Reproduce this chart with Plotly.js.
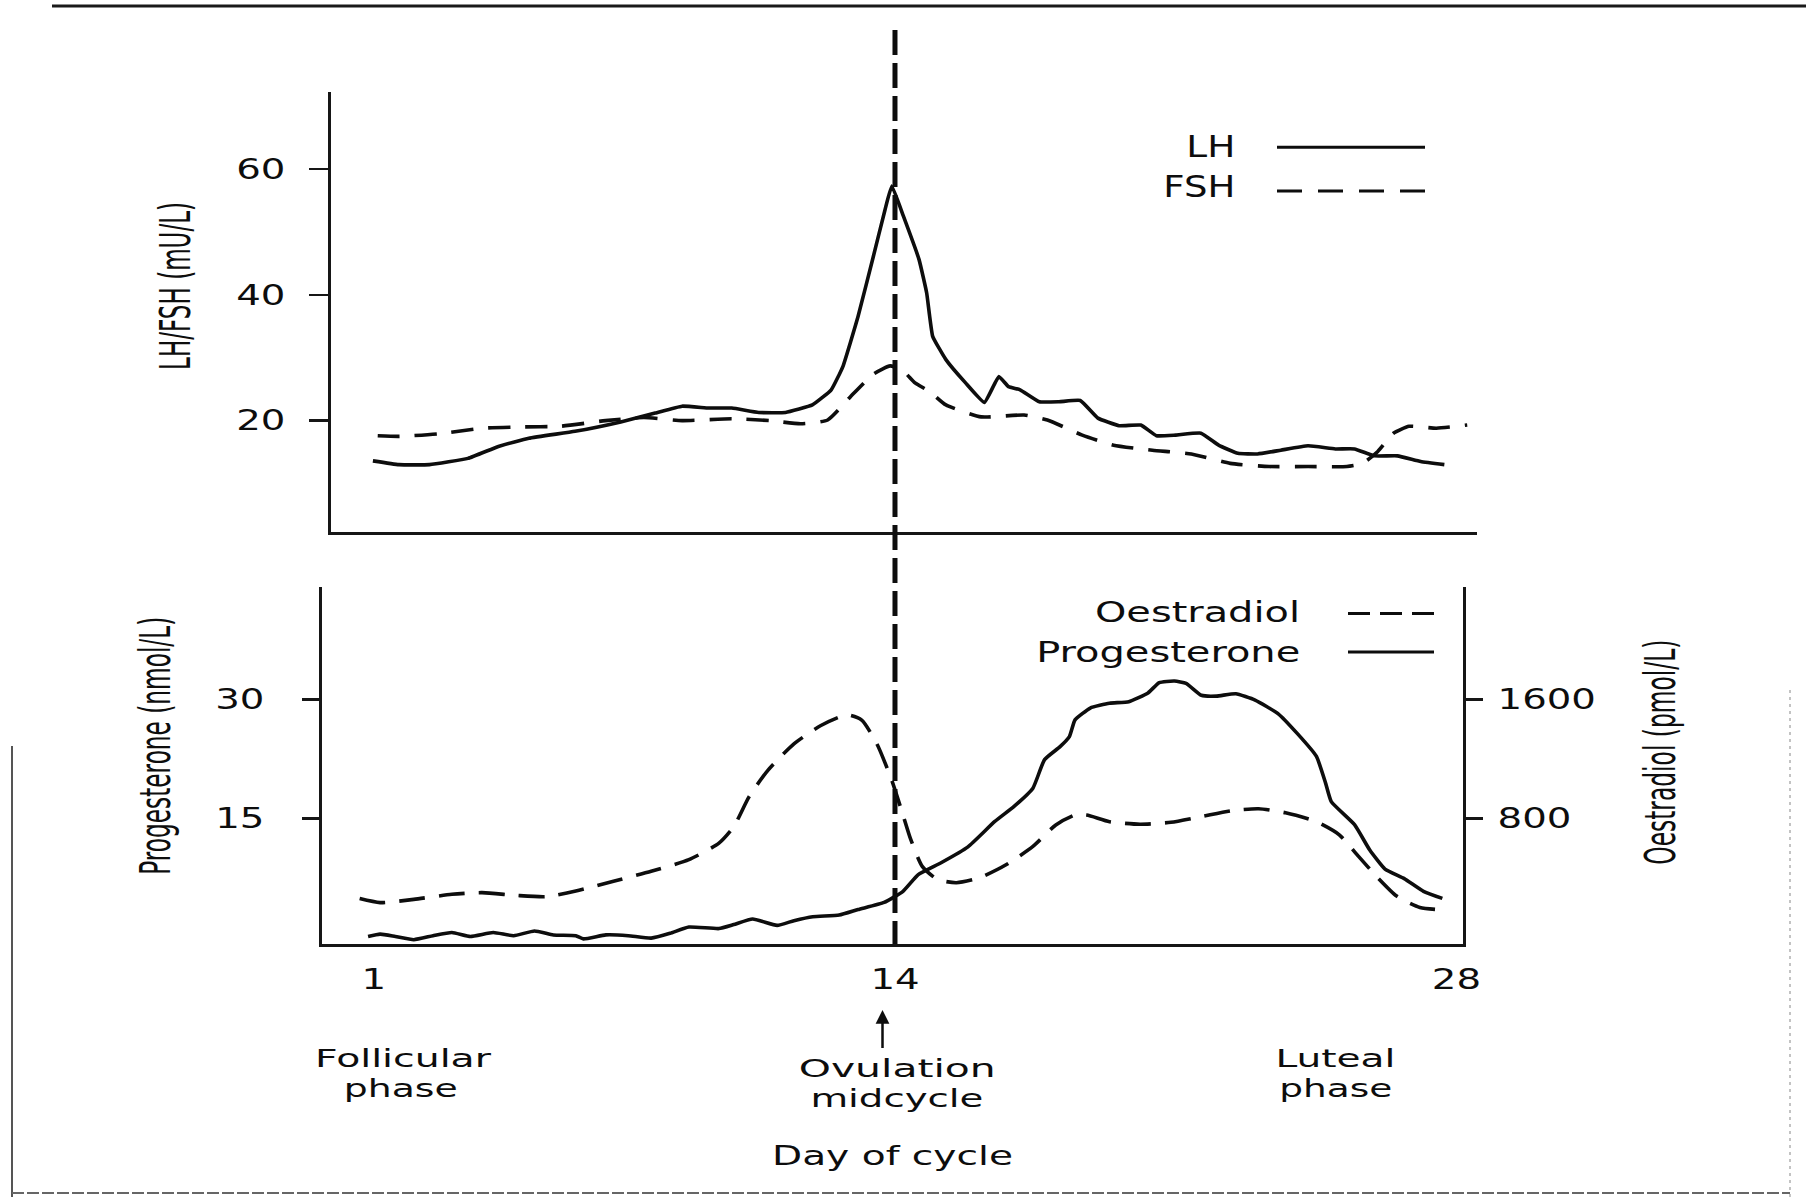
<!DOCTYPE html>
<html>
<head>
<meta charset="utf-8">
<script src="https://cdn.plot.ly/plotly-3.0.1.min.js"></script>
<style>
  html, body { margin: 0; padding: 0; background: #ffffff; }
  #chart { width: 1806px; height: 1197px; }
</style>
</head>
<body>
<div id="chart"></div>
<script>
// ---------------- data ----------------
const LH_DAY = [0.98,1.63,2.39,3.35,4.11,4.87,6.02,7.16,8.02,8.69,9.36,9.93,10.60,11.27,11.94,12.41,12.70,13.08,13.46,13.75,13.92,14.21,14.60,14.79,14.94,15.27,15.76,16.23,16.59,16.83,17.12,17.60,18.09,18.62,19.06,19.59,20.13,20.52,21.00,21.63,22.07,22.55,23.04,23.62,24.30,24.98,25.46,25.95,26.53,27.11,27.70];
const LH = [13.6,13.0,13.0,14.0,15.9,17.2,18.3,19.8,21.2,22.3,22.0,22.0,21.3,21.3,22.5,24.9,28.6,36.6,46.1,53.5,57.3,52.5,45.6,40.3,33.4,29.7,26.0,22.9,27.0,25.4,24.9,23.0,23.0,23.2,20.4,19.2,19.3,17.6,17.7,18.0,16.1,14.8,14.7,15.3,16.0,15.5,15.5,14.4,14.4,13.5,13.0];

const FSH_DAY = [1.10,1.63,2.60,3.73,4.68,5.64,6.78,7.74,8.69,9.93,10.89,11.65,12.32,12.89,13.46,13.88,14.22,14.50,14.87,15.27,16.15,17.22,17.80,18.67,19.45,20.42,21.39,22.36,23.33,24.30,25.27,25.66,26.04,26.43,26.82,27.50,28.27];
const FSH = [17.6,17.5,17.9,18.8,19.0,19.1,20.0,20.5,20.0,20.3,20.0,19.5,20.1,23.8,27.4,28.7,27.8,26.0,24.6,22.5,20.6,20.9,20.1,17.7,16.1,15.3,14.7,13.2,12.7,12.7,12.7,13.2,15.1,18.0,19.1,18.8,19.3];

const PROG_DAY = [0.86,1.16,1.54,2.00,2.48,2.95,3.41,3.98,4.49,5.01,5.48,6.04,6.23,6.79,7.35,7.92,8.39,8.86,9.61,9.98,10.45,11.06,11.48,11.95,12.61,13.08,13.73,14.20,14.58,15.15,15.82,16.49,16.97,17.44,17.73,18.11,18.35,18.49,18.87,19.35,19.83,20.31,20.59,20.97,21.26,21.64,22.02,22.50,22.98,23.55,24.03,24.51,24.74,24.88,25.46,25.84,26.22,26.70,27.18,27.65];
const PROGESTERONE = [0.1,0.4,0.1,-0.3,0.2,0.6,0.1,0.6,0.2,0.8,0.3,0.2,-0.2,0.3,0.2,-0.1,0.5,1.3,1.1,1.6,2.3,1.5,2.1,2.6,2.8,3.5,4.4,5.8,7.9,9.4,11.4,14.6,16.5,18.8,22.4,24.0,25.3,27.4,28.9,29.5,29.7,30.8,32.1,32.3,32.0,30.5,30.4,30.7,29.9,28.2,25.7,22.8,19.4,17.1,14.2,11.0,8.6,7.4,5.8,4.9];

const OEST_DAY = [0.65,1.16,2.00,2.95,3.70,4.54,5.29,6.04,6.98,7.92,8.86,9.61,9.98,10.36,10.83,11.48,12.14,12.80,13.17,13.55,13.92,14.20,14.39,14.68,15.06,15.53,16.11,16.78,17.44,18.01,18.49,18.78,19.35,20.11,20.88,21.64,22.40,23.07,23.74,24.51,25.08,25.56,26.04,26.51,27.09,27.66];
const OESTRADIOL = [260,233,255,289,300,282,273,311,377,444,522,633,744,944,1122,1300,1422,1495,1460,1300,1055,822,660,477,389,367,400,489,611,755,822,822,777,760,773,811,851,864,837,777,689,544,400,277,200,184];

const OVULATION_DAY = 14;
const DAY_TICKS = [1, 14, 28];
const LHFSH_TICKS = [20, 40, 60];
const PROG_TICKS = [15, 30];
const OEST_TICKS = [800, 1600];

const SERIES_NAMES = ['LH', 'FSH', 'Progesterone', 'Oestradiol'];
const Y_TITLES = ['LH/FSH (mU/L)', 'Progesterone (nmol/L)', 'Oestradiol (pmol/L)'];
const X_TITLE = 'Day of cycle';
const PHASE_LABELS = [['Follicular', 'phase'], ['Ovulation', 'midcycle'], ['Luteal', 'phase']];

// ---------------- page geometry helpers ----------------
const W = 1806, H = 1197;
const fx = p => p / W;
const fy = p => 1 - p / H;
const FONT = 'DejaVu Sans';
const INK = '#0d0d0d';
const TICK_STRETCH = 1.38;

const traces = [
  { x: LH_DAY, y: LH, name: SERIES_NAMES[0], xaxis: 'x', yaxis: 'y', mode: 'lines',
    line: { color: INK, width: 3.6, shape: 'spline', smoothing: 0.35 } },
  { x: FSH_DAY, y: FSH, name: SERIES_NAMES[1], xaxis: 'x', yaxis: 'y', mode: 'lines',
    line: { color: INK, width: 3.6, dash: '22px,15px', shape: 'spline', smoothing: 0.5 } },
  { x: PROG_DAY, y: PROGESTERONE, name: SERIES_NAMES[2], xaxis: 'x2', yaxis: 'y2', mode: 'lines',
    line: { color: INK, width: 3.6, shape: 'spline', smoothing: 0.45 } },
  { x: OEST_DAY, y: OESTRADIOL, name: SERIES_NAMES[3], xaxis: 'x2', yaxis: 'y3', mode: 'lines',
    line: { color: INK, width: 3.6, dash: '26px,14px', shape: 'spline', smoothing: 0.6 } }
];

const tickFont = { family: FONT, size: 28, color: INK };
const axisCommon = { showgrid: false, zeroline: false, showline: true, linewidth: 3, linecolor: '#161616',
  tickcolor: '#161616', tickwidth: 2.5, tickfont: tickFont, fixedrange: true };

// labels: text, centre (or right edge) in page pixels, size, target rendered length
const labels = [
  { text: SERIES_NAMES[0], x: 1237, y: 146, size: 30, xanchor: 'right', align: 'right', len: 49 },
  { text: SERIES_NAMES[1], x: 1237, y: 186, size: 30, xanchor: 'right', align: 'right', len: 72 },
  { text: SERIES_NAMES[3], x: 1302, y: 612.5, size: 28, xanchor: 'right', align: 'right', len: 205 },
  { text: SERIES_NAMES[2], x: 1302, y: 652, size: 28, xanchor: 'right', align: 'right', len: 264 },
  { text: Y_TITLES[0], x: 175, y: 286, size: 42, angle: -90, len: 168 },
  { text: Y_TITLES[1], x: 155, y: 746, size: 42, angle: -90, len: 258 },
  { text: Y_TITLES[2], x: 1660, y: 752.5, size: 42, angle: -90, len: 225 },
  { text: PHASE_LABELS[0][0], x: 403, y: 1058.5, size: 25, len: 176 },
  { text: PHASE_LABELS[0][1], x: 400, y: 1088.5, size: 25, len: 114 },
  { text: PHASE_LABELS[1][0], x: 897, y: 1068.5, size: 25, len: 197 },
  { text: PHASE_LABELS[1][1], x: 897, y: 1098.5, size: 25, len: 173 },
  { text: PHASE_LABELS[2][0], x: 1335, y: 1058.5, size: 25, len: 120 },
  { text: PHASE_LABELS[2][1], x: 1335, y: 1088.5, size: 25, len: 113 }
];

const annotations = labels.map(l => ({
  text: l.text, xref: 'paper', yref: 'paper', x: fx(l.x), y: fy(l.y),
  xanchor: l.xanchor || 'center', yanchor: 'middle', align: l.align || 'center',
  textangle: l.angle || 0, showarrow: false,
  font: { family: FONT, size: l.size, color: INK }
}));
const ANNOTATION_FIT = labels.map(l => ({ length: l.len }));

// ovulation arrow
annotations.push({ text: ' ', xref: 'paper', yref: 'paper', x: fx(882.5), y: fy(1010),
  showarrow: true, ax: 0, ay: 42, arrowhead: 2, arrowsize: 1.1, arrowwidth: 2.5, arrowcolor: INK,
  font: { family: FONT, size: 4, color: INK } });
ANNOTATION_FIT.push(null);

const legendLine = (x0, x1, y, dash) => ({ type: 'line', xref: 'paper', yref: 'paper',
  x0: fx(x0), x1: fx(x1), y0: fy(y), y1: fy(y), line: { color: INK, width: 3, dash: dash || 'solid' } });

const shapes = [
  // ovulation marker through both panels
  { type: 'line', xref: 'x2', yref: 'paper', x0: OVULATION_DAY, x1: OVULATION_DAY, y0: fy(30), y1: fy(944),
    line: { color: INK, width: 5, dash: '25px,8px' } },
  // legend samples
  legendLine(1277, 1425, 147.3),
  legendLine(1277, 1425, 191, '25px,16px'),
  legendLine(1348, 1434, 613.5, '22px,10px'),
  legendLine(1348, 1434, 652),
  // page rules of the scanned page
  { type: 'line', xref: 'paper', yref: 'paper', x0: fx(52), x1: 1, y0: fy(6), y1: fy(6), line: { color: '#1a1a1a', width: 3 } },
  { type: 'line', xref: 'paper', yref: 'paper', x0: fx(12), x1: fx(12), y0: fy(746), y1: 0, line: { color: '#555555', width: 2 } },
  { type: 'line', xref: 'paper', yref: 'paper', x0: fx(12), x1: fx(1790), y0: fy(1193), y1: fy(1193), line: { color: '#666666', width: 2, dash: '12px,3px' } },
  { type: 'line', xref: 'paper', yref: 'paper', x0: fx(1790), x1: fx(1790), y0: fy(690), y1: 0, line: { color: '#b0b0b0', width: 1.5, dash: '3px,4px' } }
];

const layout = {
  width: W, height: H, margin: { l: 0, r: 0, t: 0, b: 0 },
  paper_bgcolor: '#ffffff', plot_bgcolor: 'rgba(0,0,0,0)', showlegend: false,
  font: { family: FONT, color: INK },
  xaxis: Object.assign({}, axisCommon, { domain: [fx(331), fx(1477)], range: [-0.065, 28.514], anchor: 'y',
    ticks: '', showticklabels: false }),
  yaxis: Object.assign({}, axisCommon, { domain: [fy(531.7), fy(91.7)], range: [2.34, 72.3], anchor: 'x',
    ticks: 'outside', ticklen: 19, tickvals: LHFSH_TICKS, ticktext: LHFSH_TICKS.map(String), ticklabelstandoff: 18 }),
  xaxis2: Object.assign({}, axisCommon, { domain: [fx(322), fx(1463)], range: [-0.289, 28.165], anchor: 'y2',
    ticks: '', tickvals: DAY_TICKS, ticktext: DAY_TICKS.map(String), ticklabelstandoff: 8,
    title: { text: X_TITLE, font: { family: FONT, size: 27, color: INK }, standoff: 152 } }),
  yaxis2: Object.assign({}, axisCommon, { domain: [fy(944), fy(586.7)], range: [-0.845, 44.19], anchor: 'x2',
    ticks: 'outside', ticklen: 17, tickvals: PROG_TICKS, ticktext: PROG_TICKS.map(String), ticklabelstandoff: 32 }),
  yaxis3: Object.assign({}, axisCommon, { overlaying: 'y2', side: 'right', anchor: 'x2', range: [-45.07, 2356.8],
    ticks: 'outside', ticklen: 17, tickvals: OEST_TICKS, ticktext: OEST_TICKS.map(String), ticklabelstandoff: 9 }),
  annotations: annotations,
  shapes: shapes
};

// widen / narrow rendered text to match the scanned lettering
function fitText(t, how) {
  if (!t || !how) return;
  if (!t.dataset.baseLen) t.dataset.baseLen = String(t.getComputedTextLength());
  const base = parseFloat(t.dataset.baseLen);
  if (!(base > 0)) return;
  const len = how.length ? how.length : base * how.scale;
  t.setAttribute('textLength', len.toFixed(1));
  t.setAttribute('lengthAdjust', 'spacingAndGlyphs');
}
function fitAll(gd) {
  gd.querySelectorAll('.xtick text, .x2tick text, .ytick text, .y2tick text, .y3tick text')
    .forEach(t => fitText(t, { scale: TICK_STRETCH }));
  gd.querySelectorAll('text.x2title').forEach(t => fitText(t, { length: 241 }));
  gd.querySelectorAll('g.annotation').forEach(g => {
    const i = parseInt(g.getAttribute('data-index'), 10);
    const t = g.querySelector('text.annotation-text');
    fitText(t, ANNOTATION_FIT[i]);
  });
}

const gd = document.getElementById('chart');
Plotly.newPlot(gd, traces, layout, { displayModeBar: false, staticPlot: true }).then(() => {
  fitAll(gd);
  setTimeout(() => fitAll(gd), 200);
});
</script>
</body>
</html>
